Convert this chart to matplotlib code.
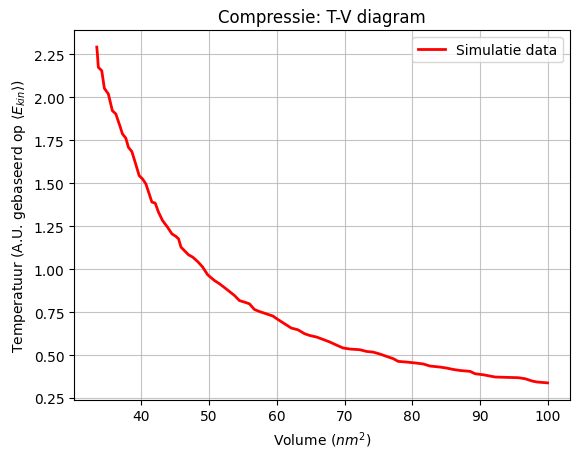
import matplotlib
matplotlib.use("Agg")
import matplotlib.pyplot as plt

volume = [
    33.40, 33.48, 33.63, 34.13, 34.52, 35.11, 35.70, 36.21, 36.80, 37.19,
    37.69, 38.07, 38.58, 39.07, 39.66, 40.15, 40.65, 41.14, 41.54, 42.03,
    42.52, 43.11, 43.85, 44.50, 45.10, 45.48, 45.84, 46.33, 46.96, 47.56,
    48.30, 49.04, 49.78, 50.77, 51.51, 52.25, 52.99, 53.73, 54.47, 55.21,
    55.95, 56.69, 57.44, 58.43, 59.41, 60.15, 61.14, 62.13, 63.11, 64.10,
    64.84, 65.84, 66.81, 67.81, 68.80, 69.78, 70.77, 72.25, 73.24, 74.22,
    75.21, 76.21, 77.19, 77.93, 79.17, 80.65, 81.63, 82.62, 84.10, 85.10,
    86.07, 87.07, 88.55, 89.29, 90.52, 92.25, 93.99, 95.70, 96.69, 97.69,
    98.43, 100.0,
]
temperatuur = [
    2.292, 2.258, 2.174, 2.155, 2.052, 2.019, 1.922, 1.903, 1.835, 1.787,
    1.762, 1.709, 1.684, 1.622, 1.544, 1.525, 1.496, 1.438, 1.390, 1.384,
    1.331, 1.283, 1.244, 1.205, 1.190, 1.176, 1.128, 1.108, 1.083, 1.070,
    1.044, 1.012, 0.967, 0.934, 0.915, 0.893, 0.870, 0.847, 0.817, 0.808,
    0.798, 0.765, 0.753, 0.740, 0.727, 0.707, 0.682, 0.657, 0.647, 0.624,
    0.614, 0.605, 0.591, 0.576, 0.558, 0.541, 0.535, 0.531, 0.521, 0.517,
    0.506, 0.492, 0.479, 0.463, 0.459, 0.453, 0.448, 0.436, 0.430, 0.424,
    0.416, 0.410, 0.405, 0.391, 0.385, 0.372, 0.370, 0.368, 0.362, 0.349,
    0.343, 0.338,
]


def main() -> None:
    fig, ax = plt.subplots(figsize=(5.8, 4.6), dpi=100)
    fig.subplots_adjust(left=0.128, right=0.983, bottom=0.129, top=0.932)

    ax.plot(volume, temperatuur, color="red", linewidth=2, label="Simulatie data")
    ax.set_title("Compressie: T-V diagram")
    ax.set_xlabel("Volume ($nm^2$)")
    ax.set_ylabel(r"Temperatuur (A.U. gebaseerd op $\langle E_{kin} \rangle$)")
    ax.grid(True, alpha=0.75)
    ax.legend(loc="upper right")

    fig.savefig("out.png", dpi=100)


if __name__ == "__main__":
    main()
